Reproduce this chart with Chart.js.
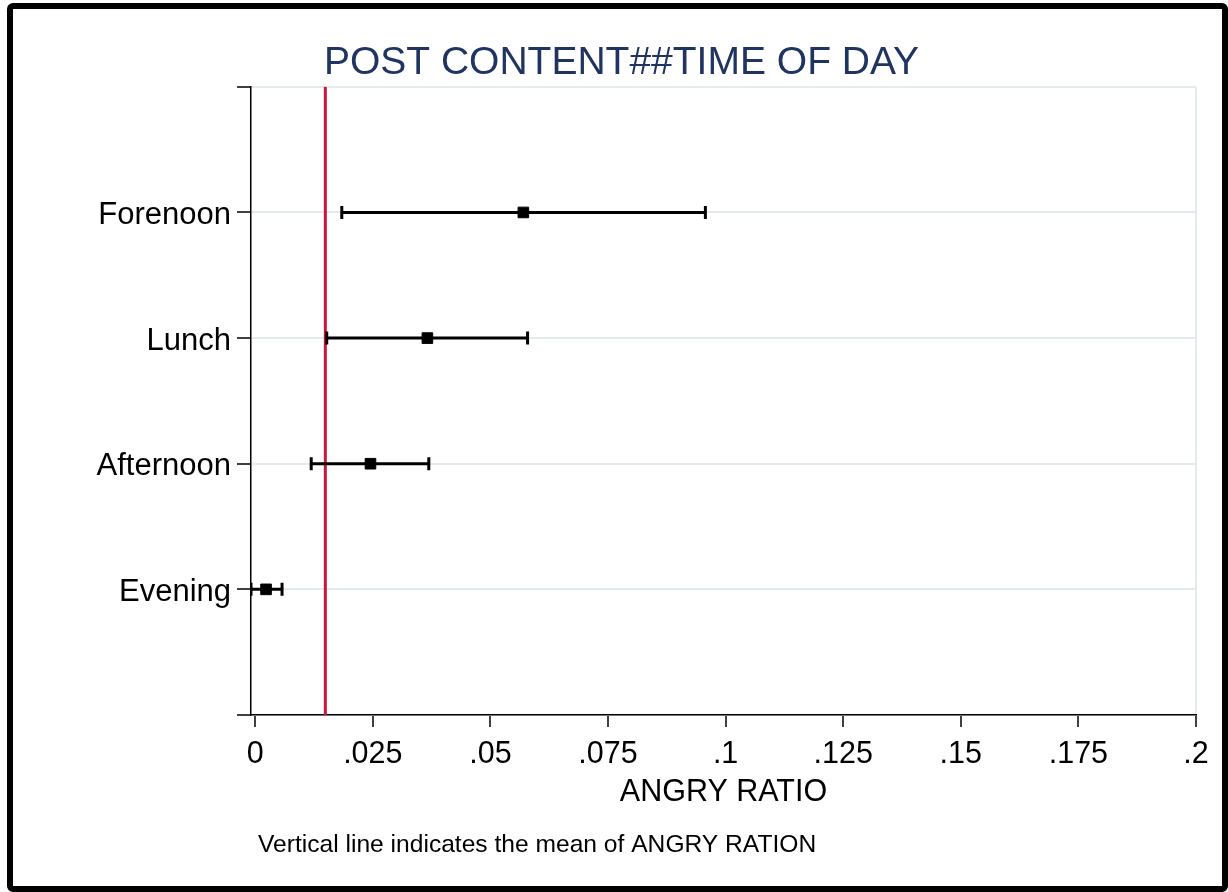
<!DOCTYPE html>
<html>
<head>
<meta charset="utf-8">
<title>POST CONTENT##TIME OF DAY</title>
<script src="https://cdn.jsdelivr.net/npm/chart.js@4.4.1/dist/chart.umd.min.js"></script>
<style>
  html, body { margin: 0; padding: 0; background: #fff; }
  #wrap { position: relative; width: 1228px; height: 892px; }
  #frame {
    position: absolute; left: 7px; top: 3px; width: 1221px; height: 889px;
    border: 6px solid #000; border-radius: 6px; box-sizing: border-box; pointer-events: none;
  }
</style>
</head>
<body>
<div id="wrap">
  <canvas id="myChart" width="1228" height="892"></canvas>
  <div id="frame"></div>
</div>
<script>
// rows, bottom to top
const categories = ['Evening', 'Afternoon', 'Lunch', 'Forenoon'];
const estimates = [0.0023, 0.0245, 0.0366, 0.0570];
const lowerCI = [-0.0009, 0.0119, 0.0152, 0.0184];
const upperCI = [0.0057, 0.0369, 0.0579, 0.0957];
const meanAngry = 0.0149;

const xTicks = [0, 0.025, 0.05, 0.075, 0.1, 0.125, 0.15, 0.175, 0.2];
const xTickLabels = ['0', '.025', '.05', '.075', '.1', '.125', '.15', '.175', '.2'];
const yTicks = [0, 1, 2, 3, 4, 5];

const titleText = 'POST CONTENT##TIME OF DAY';
const xTitle = 'ANGRY RATIO';
const footnote = 'Vertical line indicates the mean of ANGRY RATION';

const FONT = '"Liberation Sans", Arial, sans-serif';
const gridLight = '#e3ebee';

// one line dataset per confidence interval, caps drawn as rotated line points
const ciSets = categories.map((c, i) => ({
  type: 'line',
  label: c + ' CI',
  data: [{ x: lowerCI[i], y: i + 1 }, { x: upperCI[i], y: i + 1 }],
  borderColor: '#000',
  borderWidth: 3,
  pointStyle: 'line',
  pointRotation: 90,
  pointRadius: 6.5,
  pointBorderWidth: 3,
  pointBorderColor: '#000',
  order: 2
}));

const footnotePlugin = {
  id: 'footnote',
  afterDraw(chart) {
    const ctx = chart.ctx;
    ctx.save();
    ctx.font = '24.6px ' + FONT;
    ctx.fillStyle = '#000';
    ctx.textBaseline = 'middle';
    ctx.fillText(footnote, chart.chartArea.left + 7, 845);
    ctx.restore();
  }
};

const config = {
  type: 'scatter',
  data: {
    datasets: [
      {
        type: 'line',
        label: 'Mean',
        data: [{ x: meanAngry, y: 0 }, { x: meanAngry, y: 5 }],
        borderColor: '#c9153f',
        borderWidth: 3,
        pointRadius: 0,
        order: 3
      },
      ...ciSets,
      {
        label: 'Estimate',
        data: estimates.map((v, i) => ({ x: v, y: i + 1 })),
        pointStyle: 'rect',
        pointRadius: 7.5,
        backgroundColor: '#000',
        borderColor: '#000',
        borderWidth: 1,
        order: 1
      }
    ]
  },
  options: {
    responsive: false,
    animation: false,
    devicePixelRatio: 1,
    layout: { padding: { left: 47, right: 32, top: 0, bottom: 0 } },
    plugins: {
      legend: { display: false },
      tooltip: { enabled: false },
      title: {
        display: true,
        text: titleText,
        color: '#1f3461',
        font: { family: FONT, size: 39, weight: 'normal' },
        padding: { top: 40, bottom: 0 }
      }
    },
    scales: {
      x: {
        type: 'linear',
        min: -0.0009,
        max: 0.2,
        afterFit: s => { s.height = 177; },
        afterBuildTicks: s => { s.ticks = xTicks.map(v => ({ value: v })); },
        ticks: {
          autoSkip: false,
          maxRotation: 0,
          color: '#000',
          padding: 9,
          font: { family: FONT, size: 30.5 },
          callback: (v) => xTickLabels[xTicks.indexOf(v)]
        },
        grid: {
          drawOnChartArea: true,
          color: ctx => (ctx.tick && ctx.tick.value === 0.2 ? gridLight : 'rgba(0,0,0,0)'),
          lineWidth: 2,
          tickColor: '#000',
          tickLength: 12,
          tickWidth: 1.5
        },
        border: { display: true, color: '#000', width: 1.5 },
        title: {
          display: true,
          text: xTitle,
          color: '#000',
          font: { family: FONT, size: 30.5 },
          padding: { top: 0, bottom: 81 }
        }
      },
      y: {
        type: 'linear',
        min: 0,
        max: 5,
        afterFit: s => { s.width = 204; },
        afterBuildTicks: s => { s.ticks = yTicks.map(v => ({ value: v })); },
        ticks: {
          autoSkip: false,
          color: '#000',
          padding: 6,
          labelOffset: 3,
          font: { family: FONT, size: 31 },
          callback: (v) => categories[v - 1] || ''
        },
        grid: {
          color: gridLight,
          lineWidth: 2,
          tickColor: '#000',
          tickLength: 14,
          tickWidth: 1.5
        },
        border: { display: true, color: '#000', width: 1.5 }
      }
    }
  },
  plugins: [footnotePlugin]
};

const myChart = new Chart('myChart', config);
</script>
</body>
</html>
